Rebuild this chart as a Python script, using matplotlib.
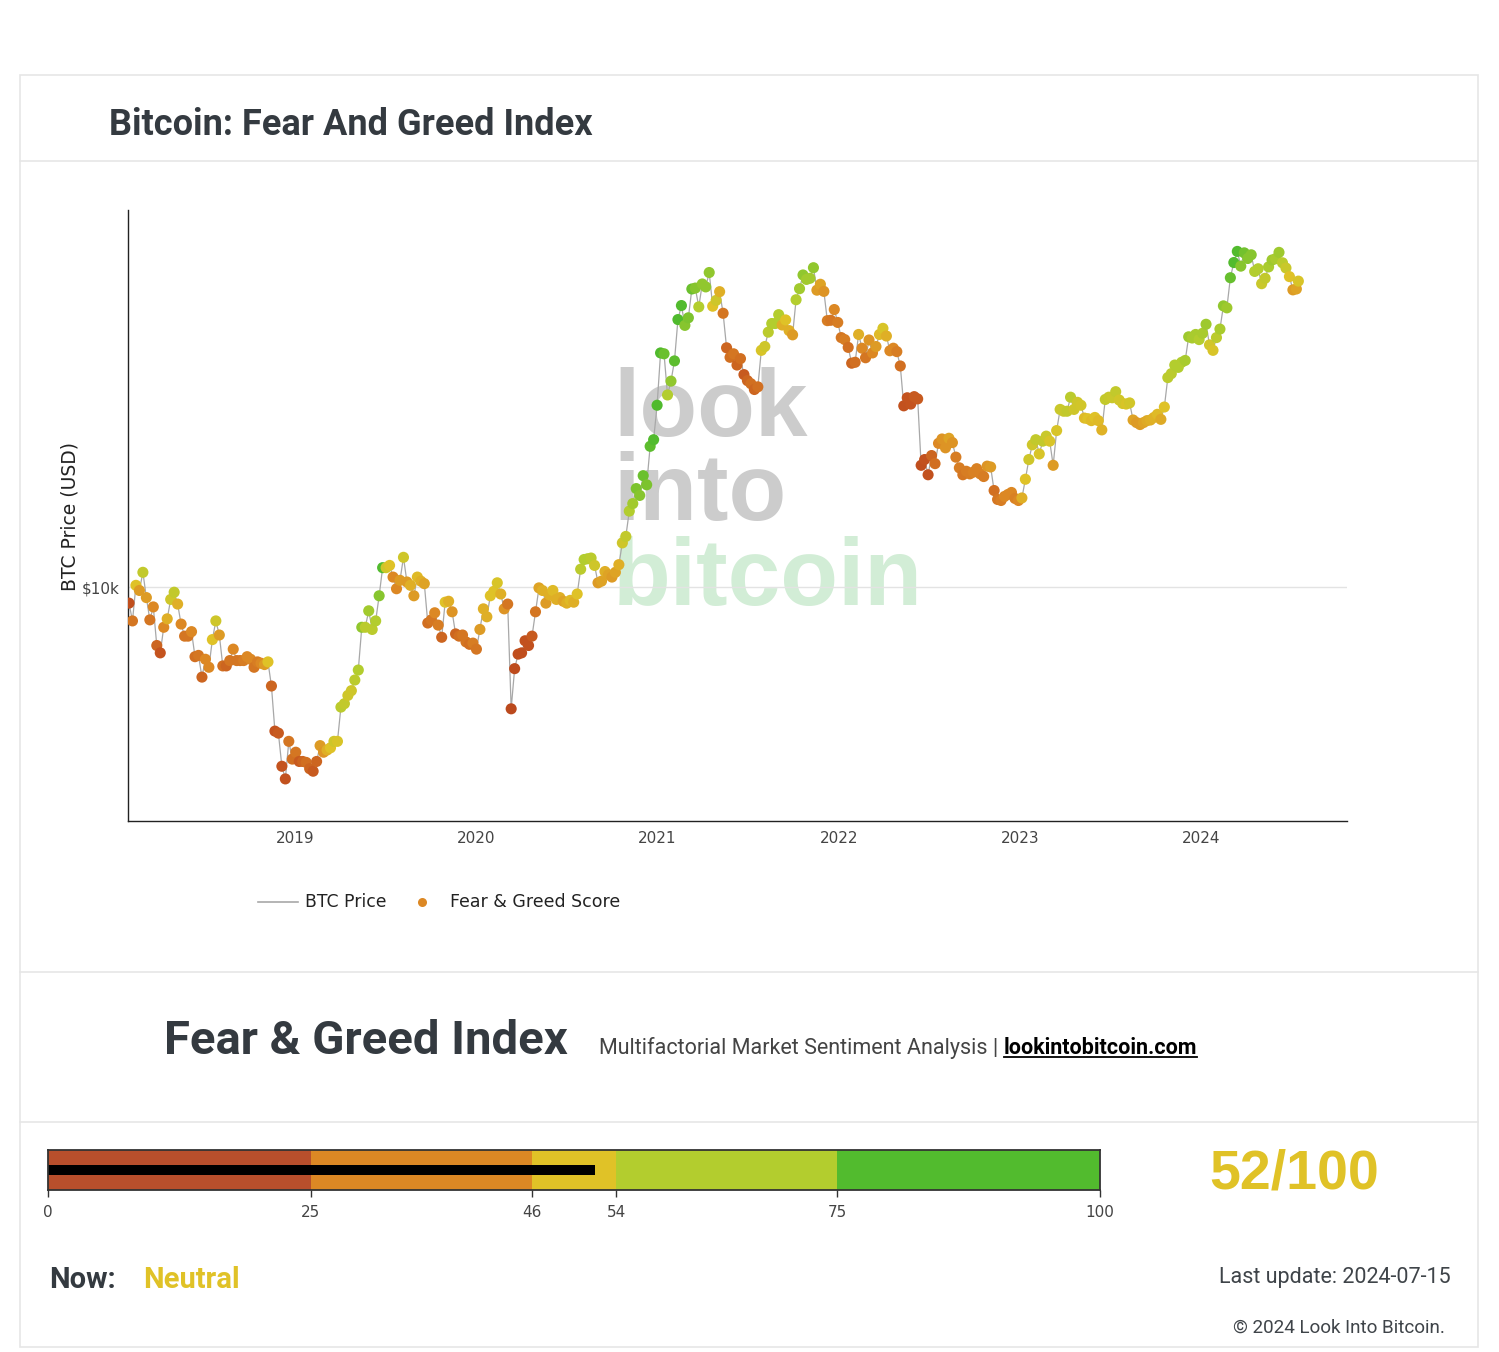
import matplotlib
matplotlib.use('Agg')
import matplotlib.pyplot as plt
import numpy as np
import pandas as pd
from matplotlib.colors import LinearSegmentedColormap
from matplotlib.patches import Rectangle
from matplotlib.lines import Line2D

# ---------------- data (weekly, Thursdays from 2018-02-01, last point 2024-07-15) -------------
price_2018 = [9100, 8200, 10100, 9800,
              10900, 9400, 8250, 8900, 7100,
              6800, 7900, 8300, 9300,
              9700, 9050, 8050, 7500, 7500,
              7700, 6650, 6700, 5900,
              6550, 6250, 7350, 8200,
              7550, 6300, 6300, 6500, 6950,
              6500, 6500, 6500, 6650,
              6550, 6250, 6450, 6400,
              6350, 6450, 5600, 4300, 4250,
              3500, 3250, 4050, 3650]
score_2018 = [15, 30, 50, 40,
              58, 40, 30, 35, 25,
              20, 35, 45, 55,
              58, 45, 35, 30, 30,
              35, 28, 30, 25,
              35, 35, 50, 55,
              40, 28, 25, 30, 35,
              30, 30, 32, 35,
              35, 30, 32, 35,
              40, 50, 25, 20, 22,
              20, 18, 30, 28]
price_2019 = [3800, 3600, 3600, 3580, 3450,
              3400, 3600, 3950, 3800,
              3850, 3900, 4050, 4050,
              4950, 5050, 5300, 5450,
              5800, 6150, 7900, 7900, 8700,
              7800, 8200, 9500, 11200,
              11200, 11350, 10600, 9900,
              10400, 11900, 10300, 10100, 9500,
              10600, 10350, 10200, 8100,
              8250, 8600, 8000, 7450, 9150,
              9200, 8650, 7600, 7500,
              7550, 7250, 7150, 7200]
score_2019 = [30, 22, 25, 28, 25,
              22, 25, 40, 38,
              45, 50, 55, 52,
              60, 58, 55, 55,
              60, 62, 68, 60, 65,
              60, 62, 70, 80,
              55, 50, 35, 35,
              40, 55, 40, 45, 40,
              48, 45, 42, 28,
              30, 35, 32, 25, 50,
              45, 38, 25, 28,
              30, 30, 28, 32]
price_2020 = [6950, 7800, 8800, 8400, 9500,
              9750, 10250, 9600, 8800,
              9050, 4900, 6200, 6750,
              6800, 7300, 7100, 7500, 8650,
              9950, 9800, 9100, 9550,
              9800, 9300, 9400, 9200,
              9100, 9250, 9150, 9600, 11100,
              11750, 11800, 11850, 11350,
              10250, 10350, 10950, 10750,
              10600, 10900, 11400, 12950, 13450,
              15600, 16300, 17800, 17100,
              19200, 18200, 22800, 23700, 29000]
score_2020 = [30, 40, 45, 45, 50,
              50, 52, 45, 38,
              30, 10, 12, 15,
              15, 18, 18, 22, 30,
              42, 45, 40, 45,
              48, 45, 45, 42,
              45, 48, 45, 50, 60,
              62, 62, 60, 55,
              40, 42, 45, 42,
              40, 42, 45, 55, 58,
              62, 65, 72, 70,
              75, 72, 78, 80, 82]
price_2021 = [39400, 39200, 30800, 33400,
              37600, 47900, 52000, 46300,
              48400, 57300, 57600, 51600,
              59000, 58000, 63100, 51800, 53600,
              56400, 49700, 40600, 38400,
              39200, 36700, 38100, 34700,
              33500, 32900, 31800, 32300, 40000,
              40900, 44500, 46800, 46800,
              49300, 46400, 47800, 44900, 43800,
              53800, 57400, 62200, 60600,
              61000, 64900, 56900, 58900,
              56500, 47600, 47700, 50800, 47100]
score_2021 = [82, 75, 62, 68,
              78, 82, 80, 70,
              72, 75, 70, 62,
              68, 68, 68, 50, 55,
              45, 30, 25, 28,
              30, 25, 28, 22,
              25, 28, 25, 28, 52,
              55, 60, 62, 62,
              62, 45, 50, 45, 40,
              62, 65, 68, 65,
              65, 68, 40, 42,
              38, 32, 30, 35, 32]
price_2022 = [43100, 42600, 40700, 37100,
              37300, 43900, 40500, 38300,
              42500, 39400, 40900, 43900, 45500,
              43500, 39900, 40500, 39700,
              36500, 28900, 30300, 29200,
              30500, 30100, 20400, 21100, 19300,
              21600, 20600, 23200, 23800,
              22600, 23900, 23300, 21400,
              20100, 19300, 19700, 19400, 19600,
              20000, 19400, 19100, 20300,
              20200, 17600, 16700, 16600,
              17000, 17200, 17400, 16800, 16600]
score_2022 = [30, 32, 28, 25,
              28, 45, 35, 30,
              38, 35, 40, 48, 52,
              45, 35, 35, 32,
              28, 18, 20, 20,
              22, 22, 15, 18, 18,
              25, 28, 35, 38,
              38, 42, 38, 32,
              32, 30, 32, 32, 33,
              33, 33, 32, 38,
              40, 28, 30, 32,
              35, 35, 35, 33, 35]
price_2023 = [16850, 18800, 21100, 23000,
              23700, 21800, 23500, 24200,
              23500, 20400, 25000, 28300, 28000,
              28000, 30400, 28300, 29500,
              29000, 26900, 26800, 26500,
              27000, 26500, 25100, 30000, 30400,
              30300, 31400, 29900, 29300,
              29200, 29400, 26600, 26200, 25900,
              26200, 26500, 26600, 27000,
              27500, 26700, 28700, 34100,
              34900, 36700, 36200, 37300, 37700,
              43300, 43000, 43900, 42600]
score_2023 = [45, 50, 55, 55,
              58, 52, 58, 56,
              52, 40, 52, 56, 56,
              58, 60, 55, 55,
              54, 48, 50, 48,
              50, 48, 46, 58, 57,
              56, 58, 54, 54,
              52, 54, 42, 40, 40,
              42, 44, 45, 46,
              48, 44, 50, 60,
              60, 62, 62, 62, 64,
              66, 64, 64, 62]
price_2024 = [44200, 46600, 41300, 40000,
              43100, 45300, 51900, 51300, 61200,
              66900, 71400, 65500, 70800,
              68500, 70000, 63500, 64500,
              59100, 61000, 65200, 67900, 68400,
              71000, 66800, 64800, 61600,
              57000, 57300, 60000]
score_2024 = [64, 66, 54, 52,
              60, 64, 68, 66, 76,
              80, 80, 70, 74,
              70, 70, 62, 62,
              56, 58, 64, 66, 64,
              66, 60, 56, 50,
              40, 42, 52]

first_date = '2018-02-01'
last_date = '2024-07-15'
x_tick_labels = ['2019', '2020', '2021', '2022', '2023', '2024']

gauge_bounds = [0, 25, 46, 54, 75, 100]
gauge_colors = ['#b84f2c', '#dc8824', '#e0c227', '#b3cd2e', '#52bb2e']
current_score = 52
current_label = 'Neutral'
last_update = '2024-07-15'

# ---------------- assemble -------------
price = price_2018 + price_2019 + price_2020 + price_2021 + price_2022 + price_2023 + price_2024
score = score_2018 + score_2019 + score_2020 + score_2021 + score_2022 + score_2023 + score_2024
assert len(price) == len(score), (len(price), len(score))
dates = list(pd.date_range(first_date, periods=len(price) - 1, freq='7D')) + [pd.Timestamp(last_date)]

W, H = 1499, 1352
fig = plt.figure(figsize=(W / 100, H / 100), dpi=100)
fig.patch.set_facecolor('white')


def fx(x):
    return x / W


def fy(y):
    return 1 - y / H


DARK = '#343a40'
GRAY_TXT = '#444444'

# panel border and separators
fig.add_artist(Rectangle((fx(20), fy(1347)), fx(1478) - fx(20), fy(75) - fy(1347),
                         transform=fig.transFigure, fill=False, edgecolor='#e6e6e6', lw=1.2))
for yy in [161, 972, 1122]:
    fig.add_artist(Line2D([fx(20), fx(1478)], [fy(yy), fy(yy)], transform=fig.transFigure,
                          color='#e6e6e6', lw=1.2))

fig.text(fx(109), fy(135), 'Bitcoin: Fear And Greed Index', family='Roboto', weight='bold',
         fontsize=26, color=DARK, va='baseline', ha='left')

# ---------------- main chart -------------
ax = fig.add_axes([fx(128), fy(821), fx(1347) - fx(128), fy(210) - fy(821)])
ax.set_facecolor('none')
cmap = LinearSegmentedColormap.from_list('fg', [(0.0, '#b3401c'), (0.2, '#c4531e'), (0.35, '#dc8824'),
                                               (0.5, '#e0c227'), (0.62, '#b3cd2e'), (0.8, '#52bb2e'),
                                               (1.0, '#3fae28')])
ax.plot(dates, price, color='#a8a8a8', lw=0.9, zorder=2)
ax.scatter(dates, price, c=score, cmap=cmap, vmin=0, vmax=100, s=64, linewidths=0, zorder=3)
ax.set_yscale('log')
ax.set_ylim(2540, 91000)
ax.set_xlim(pd.Timestamp('2018-01-30'), pd.Timestamp('2024-10-21'))
ax.set_yticks([10000])
ax.set_yticklabels(['$10k'])
ax.yaxis.set_minor_locator(matplotlib.ticker.NullLocator())
ax.set_xticks([pd.Timestamp(f'{t}-01-01') for t in x_tick_labels])
ax.set_xticklabels(x_tick_labels)
ax.tick_params(axis='both', length=0, labelsize=11, labelcolor=GRAY_TXT, pad=6)
ax.tick_params(axis='x', pad=7)
ax.grid(axis='y', color='#e3e3e3', lw=1.0, zorder=1)
for s in ['top', 'right']:
    ax.spines[s].set_visible(False)
for s in ['left', 'bottom']:
    ax.spines[s].set_color('#222222')
    ax.spines[s].set_linewidth(1.0)
fig.text(fx(70), fy(516), 'BTC Price (USD)', rotation=90, fontsize=13.5, color='#222222',
         ha='center', va='center')

# watermark
wm_font = dict(family='Liberation Sans', weight='bold', fontsize=68, va='baseline', ha='left',
               transform=fig.transFigure, zorder=0.5)
ax.text(fx(613), fy(436), 'look', color='#cccccc', **wm_font)
ax.text(fx(613), fy(520), 'into', color='#cccccc', **wm_font)
ax.text(fx(613), fy(605), 'bitcoin', color='#d2edd6', **wm_font)

# legend
fig.add_artist(Line2D([fx(258), fx(298)], [fy(902), fy(902)], transform=fig.transFigure,
                      color='#a8a8a8', lw=1.2))
fig.text(fx(305), fy(902), 'BTC Price', fontsize=12.4, color='#222222', va='center', ha='left')
fig.add_artist(Line2D([fx(422)], [fy(902)], transform=fig.transFigure, marker='o', ms=6.5,
                      color='#dc8824', mew=0, ls='none'))
fig.text(fx(450), fy(902), 'Fear & Greed Score', fontsize=12.5, color='#222222', va='center', ha='left')

# ---------------- bottom section -------------
fig.text(fx(164), fy(1054), 'Fear & Greed Index', family='Roboto', weight='bold', fontsize=34,
         color=DARK, va='baseline', ha='left')
fig.text(fx(599), fy(1054), 'Multifactorial Market Sentiment Analysis |', family='Roboto',
         fontsize=15.5, color=GRAY_TXT, va='baseline', ha='left')
fig.text(fx(1004), fy(1054), 'lookintobitcoin.com', family='Roboto', weight='bold',
         fontsize=15.5, color='black', va='baseline', ha='left')
fig.add_artist(Line2D([fx(1004), fx(1197)], [fy(1057), fy(1057)], transform=fig.transFigure,
                      color='black', lw=1.3))

gx = fig.add_axes([fx(48), fy(1190), fx(1100) - fx(48), fy(1150) - fy(1190)])
for i in range(len(gauge_colors)):
    gx.barh(0.5, gauge_bounds[i + 1] - gauge_bounds[i], left=gauge_bounds[i], height=1.0,
            color=gauge_colors[i], lw=0)
gx.barh(0.5, current_score, left=0, height=0.25, color='black', lw=0)
gx.set_xlim(0, 100)
gx.set_ylim(0, 1)
gx.set_yticks([])
gx.set_xticks(gauge_bounds)
gx.set_xticklabels([str(b) for b in gauge_bounds])
gx.tick_params(axis='x', length=5, width=1, color='#333333', labelsize=11, labelcolor=GRAY_TXT, pad=6)
for s in gx.spines.values():
    s.set_color('#333333')
    s.set_linewidth(1.3)

fig.text(fx(1209), fy(1188), f'{current_score}/100', family='Liberation Sans', weight='bold',
         fontsize=40, color='#e0c227', va='baseline', ha='left')
fig.text(fx(49), fy(1288), 'Now:', family='Roboto', weight='bold', fontsize=21,
         color=DARK, va='baseline', ha='left')
fig.text(fx(143), fy(1288), current_label, family='Roboto', weight='bold', fontsize=21,
         color='#e0c227', va='baseline', ha='left')
fig.text(fx(1451), fy(1283), f'Last update: {last_update}', family='Roboto', fontsize=15.5,
         color='#3f4449', va='baseline', ha='right')
fig.text(fx(1445), fy(1333), '\u00a9 2024 Look Into Bitcoin.', family='Roboto', fontsize=13.6,
         color='#3f4449', va='baseline', ha='right')

fig.savefig('out.png', dpi=100, facecolor='white')
